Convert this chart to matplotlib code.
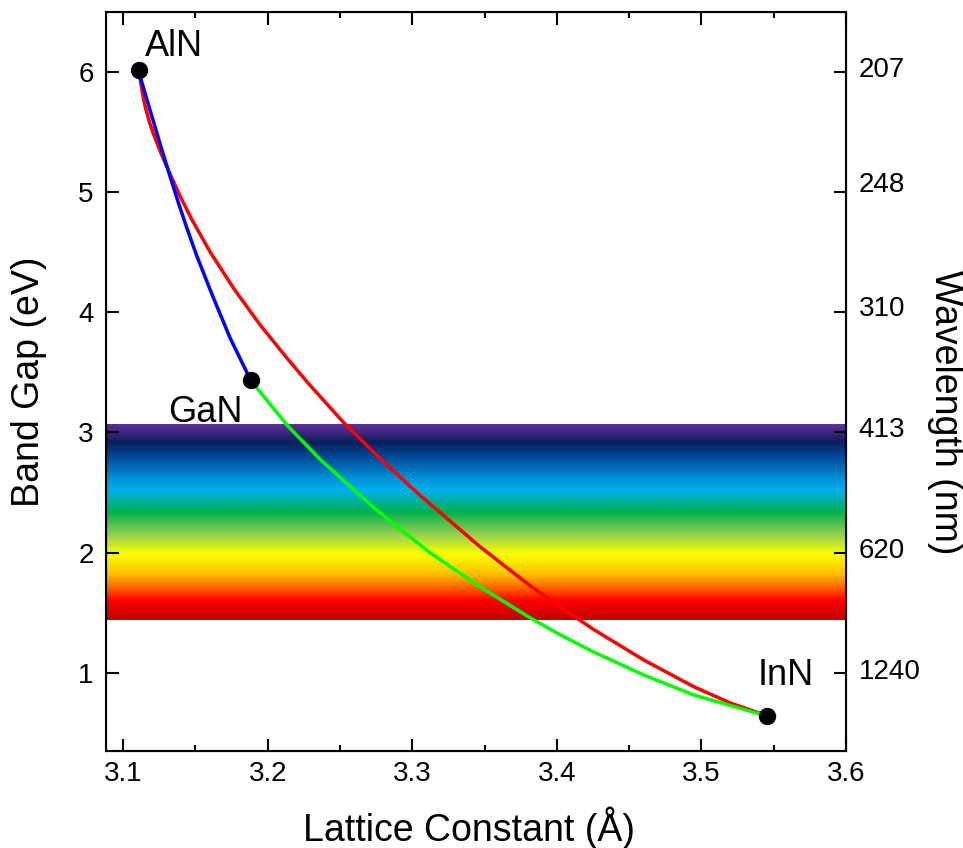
import numpy as np
import matplotlib
matplotlib.use('Agg')
import matplotlib.pyplot as plt
import matplotlib.transforms as mtransforms
from matplotlib.colors import LinearSegmentedColormap
from matplotlib.ticker import MultipleLocator

# binary nitrides (lattice constant in Angstrom, band gap in eV)
binary_names = ['AlN', 'GaN', 'InN']
binary_a = [3.1107, 3.1884, 3.5455]
binary_eg = [6.009, 3.436, 0.643]

# AlGaN (AlN -> GaN)
algan_a = [3.1107, 3.1129, 3.1187, 3.1256, 3.1325, 3.1383, 3.1441, 3.1510,
           3.1625, 3.1740, 3.1860, 3.1884]
algan_eg = [6.009, 5.914, 5.677, 5.398, 5.128, 4.908, 4.700, 4.467,
            4.118, 3.786, 3.490, 3.436]

# InGaN (GaN -> InN)
ingan_a = [3.1884, 3.1925, 3.2133, 3.2363, 3.2663, 3.2779, 3.3125, 3.3471,
           3.3817, 3.4024, 3.4255, 3.4601, 3.4947, 3.5386, 3.5455]
ingan_eg = [3.436, 3.370, 3.062, 2.776, 2.451, 2.331, 1.998, 1.716,
            1.458, 1.317, 1.175, 0.984, 0.818, 0.666, 0.643]

# AlInN (AlN -> InN)
alinn_a = [3.1107, 3.1118, 3.1135, 3.1152, 3.1180, 3.1210, 3.1256, 3.1302,
           3.1394, 3.1475, 3.1602, 3.1763, 3.1948, 3.2133, 3.2282, 3.2525,
           3.2801, 3.3067, 3.3471, 3.3817, 3.4142, 3.4255, 3.4601, 3.4947,
           3.5201, 3.5408, 3.5455]
alinn_eg = [6.009, 5.938, 5.814, 5.714, 5.589, 5.481, 5.340, 5.209,
            4.966, 4.771, 4.500, 4.201, 3.894, 3.619, 3.407, 3.083,
            2.755, 2.464, 2.048, 1.724, 1.454, 1.362, 1.109, 0.887,
            0.751, 0.664, 0.643]

# visible band (eV) and its colour stops
visible_lo, visible_hi = 1.44, 3.064
band_stop_eg = [1.44, 1.60, 1.70, 1.82, 1.98, 2.15, 2.34, 2.52, 2.60, 2.79, 2.92, 3.02, 3.064]
band_stop_col = ['#c00000', '#ff0000', '#ff6000', '#ffc000', '#ffff00', '#92d050', '#00b050',
                 '#00b0ee', '#0098dc', '#004a9a', '#0c1f5a', '#4b2a88', '#5b3196']

# right axis
wl_eg = [6, 5, 4, 3, 2, 1]
wl_labels = ['207', '248', '310', '413', '620', '1240']
wl_shift = [5, 10, 6, 5, 5, 4]   # label raise in px

plt.rcParams['font.family'] = ['Liberation Sans', 'DejaVu Sans']

fig = plt.figure(figsize=(9.63, 8.48), dpi=100)
ax = fig.add_axes([106/963, 97/848, 740/963, 739/848])
xmin, xmax = 3.0882, 3.6
ax.set_xlim(xmin, xmax)
ax.set_ylim(0.3525, 6.495)

pos = [(e - visible_lo) / (visible_hi - visible_lo) for e in band_stop_eg]
cmap = LinearSegmentedColormap.from_list('vis', list(zip(pos, band_stop_col)))
grad = np.linspace(0, 1, 400).reshape(-1, 1)
ax.imshow(grad, cmap=cmap, origin='lower', aspect='auto',
          extent=[xmin, xmax, visible_lo, visible_hi], zorder=1, interpolation='bilinear')

ax.plot(alinn_a, alinn_eg, color='#ff0000', lw=2.5, zorder=3, solid_joinstyle='round')
ax.plot(algan_a, algan_eg, color='#0000ff', lw=2.5, zorder=3, solid_joinstyle='round')
ax.plot(ingan_a, ingan_eg, color='#00ff00', lw=2.5, zorder=3, solid_joinstyle='round')
ax.plot(binary_a, binary_eg, 'o', color='black', ms=11.5, zorder=5)

ax.text(3.1152, 6.13, 'AlN', fontsize=26, ha='left', va='baseline')
ax.text(3.1311, 3.09, 'GaN', fontsize=26, ha='left', va='baseline')
ax.text(3.5388, 0.90, 'InN', fontsize=26, ha='left', va='baseline')

ax.xaxis.set_major_locator(MultipleLocator(0.1))
ax.xaxis.set_minor_locator(MultipleLocator(0.05))
ax.set_yticks([1, 2, 3, 4, 5, 6])
ax.tick_params(axis='x', which='major', direction='in', top=True, length=9, width=1.5,
               labelsize=20, pad=7)
ax.tick_params(axis='x', which='minor', direction='in', top=True, length=4.5, width=1.5)
ax.tick_params(axis='y', which='major', direction='in', length=9, width=1.5,
               labelsize=20, pad=9)
for s in ax.spines.values():
    s.set_linewidth(1.5)

ax2 = ax.twinx()
ax2.set_ylim(ax.get_ylim())
ax2.set_yticks(wl_eg)
ax2.set_yticklabels(wl_labels)
ax2.tick_params(axis='y', direction='in', length=9, width=1.5, labelsize=20, pad=9)
for lab, d in zip(ax2.get_yticklabels(), wl_shift):
    lab.set_transform(lab.get_transform() + mtransforms.ScaledTranslation(0, d / 100, fig.dpi_scale_trans))

ax.set_xlabel('Lattice Constant (Å)', fontsize=27)
ax.xaxis.set_label_coords(0.49, -0.075)
ax.set_ylabel('Band Gap (eV)', fontsize=27)
ax.yaxis.set_label_coords(-0.08, 0.5)
fig.text(945/963, 1 - 412/848, 'Wavelength (nm)', fontsize=27, rotation=270,
         ha='center', va='center')

fig.savefig('out.png', dpi=100)
